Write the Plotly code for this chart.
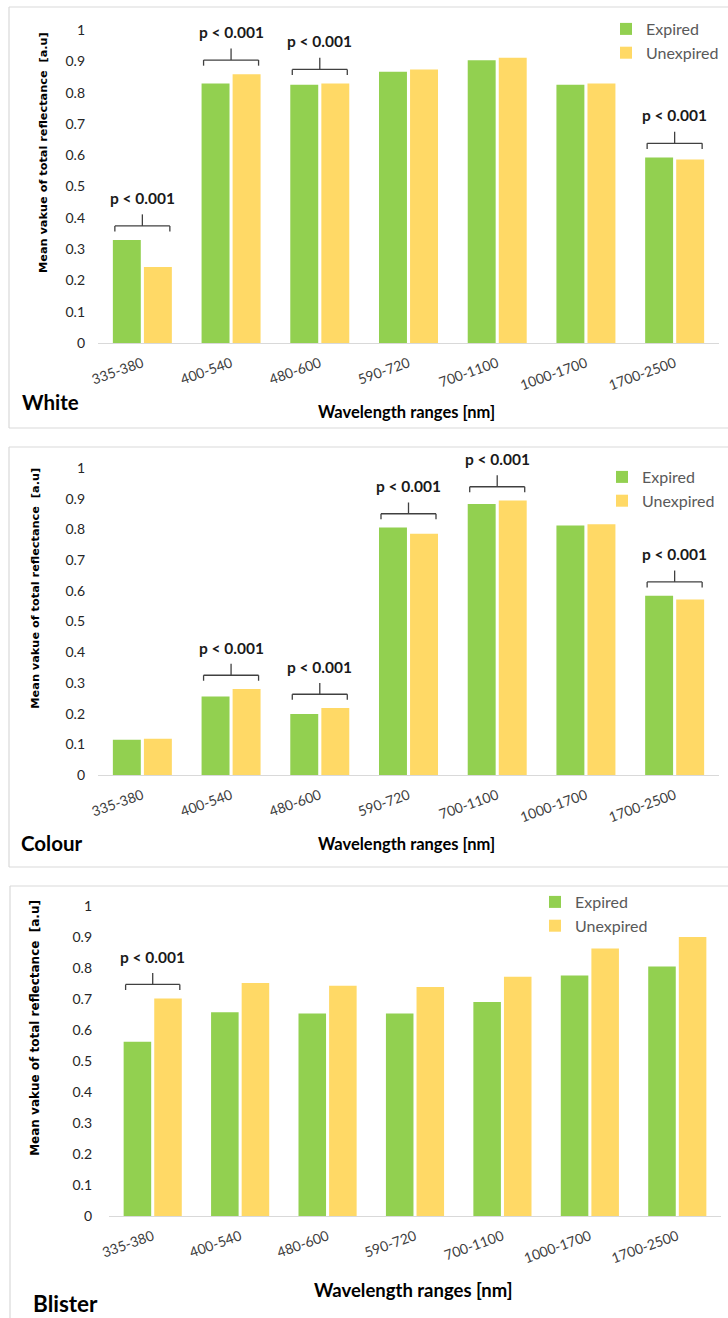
import plotly.graph_objects as go

W, H = 728, 1318

ranges = ["335-380", "400-540", "480-600", "590-720", "700-1100", "1000-1700", "1700-2500"]

white_expired = [0.329, 0.829, 0.825, 0.867, 0.903, 0.825, 0.593]
white_unexpired = [0.243, 0.859, 0.829, 0.874, 0.911, 0.829, 0.586]
white_sig = ["335-380", "400-540", "480-600", "1700-2500"]

colour_expired = [0.115, 0.256, 0.199, 0.806, 0.883, 0.813, 0.584]
colour_unexpired = [0.118, 0.280, 0.218, 0.786, 0.894, 0.817, 0.572]
colour_sig = ["400-540", "480-600", "590-720", "700-1100", "1700-2500"]

blister_expired = [0.562, 0.657, 0.653, 0.653, 0.690, 0.776, 0.805]
blister_unexpired = [0.702, 0.752, 0.743, 0.739, 0.772, 0.863, 0.900]
blister_sig = ["335-380"]

y_ticks = [0, 0.1, 0.2, 0.3, 0.4, 0.5, 0.6, 0.7, 0.8, 0.9, 1]
y_tick_text = ["0", "0.1", "0.2", "0.3", "0.4", "0.5", "0.6", "0.7", "0.8", "0.9", "1"]

GREEN = "#92D050"
YELLOW = "#FFD966"
FONT = "Lato"
YMAX = 1.08


def px_x(p):
    return p / W


def px_y(p):
    return 1 - p / H


# per-panel pixel geometry: plot left/right, zero line, pixels per unit
panels = [
    dict(name="White", exp=white_expired, unexp=white_unexpired, sig=white_sig,
         left=98, right=719, zero=343, scale=313, box=(9, 7, 428),
         legend=(606, 12), ytitle=(43, 11.3), xtitle=(406, 412, 16.5),
         label=(20, 402, 20.5), ytick_standoff=12),
    dict(name="Colour", exp=colour_expired, unexp=colour_unexpired, sig=colour_sig,
         left=98, right=719, zero=775, scale=307, box=(9, 447, 867),
         legend=(602, 460), ytitle=(36, 11.3), xtitle=(406, 844, 16.5),
         label=(19, 843, 20.5), ytick_standoff=12),
    dict(name="Blister", exp=blister_expired, unexp=blister_unexpired, sig=blister_sig,
         left=109, right=721, zero=1216, scale=310, box=(10, 886, 1330),
         legend=(535, 885), ytitle=(35, 12), xtitle=(413, 1290, 18.5),
         label=(31, 1303, 22.5), ytick_standoff=16),
]

fig = go.Figure()
shapes = []
annotations = []

for i, p in enumerate(panels, start=1):
    sx = "" if i == 1 else str(i)
    xa, ya = "x" + sx, "y" + sx
    leg = "legend" + sx

    fig.add_trace(go.Bar(x=ranges, y=p["exp"], name="Expired", marker_color=GREEN,
                         marker_line_width=0, xaxis=xa, yaxis=ya, legend=leg))
    fig.add_trace(go.Bar(x=ranges, y=p["unexp"], name="Unexpired", marker_color=YELLOW,
                         marker_line_width=0, xaxis=xa, yaxis=ya, legend=leg))

    top_px = p["zero"] - YMAX * p["scale"]
    fig.layout["xaxis" + sx] = dict(
        domain=[px_x(p["left"]), px_x(p["right"])], anchor=ya, automargin=False,
        type="category", categoryorder="array", categoryarray=ranges,
        tickangle=-20, tickfont=dict(family=FONT, size=14, color="#404040"),
        ticklabelstandoff=6,
        showline=True, linecolor="#d9d9d9", linewidth=1, ticks="",
        showgrid=False, zeroline=False, fixedrange=True,
    )
    fig.layout["yaxis" + sx] = dict(
        domain=[px_y(p["zero"]), px_y(top_px)], anchor=xa, automargin=False,
        range=[0, YMAX], tickvals=y_ticks, ticktext=y_tick_text,
        tickfont=dict(family=FONT, size=14, color="#262626"),
        ticklabelstandoff=p["ytick_standoff"],
        showgrid=False, zeroline=False, showline=False, ticks="", fixedrange=True,
    )

    fig.layout[leg] = dict(
        x=px_x(p["legend"][0]), y=px_y(p["legend"][1]), xanchor="left", yanchor="top",
        xref="paper", yref="paper", bgcolor="rgba(0,0,0,0)",
        font=dict(family=FONT, size=16, color="#595959"),
        itemwidth=30, tracegroupgap=0,
    )

    # panel frame (open on the right)
    bx, by0, by1 = p["box"]
    frame = dict(type="line", xref="paper", yref="paper",
                 line=dict(color="#d9d9d9", width=1.2))
    shapes.append({**frame, "x0": px_x(bx), "x1": 1.01, "y0": px_y(by0), "y1": px_y(by0)})
    shapes.append({**frame, "x0": px_x(bx), "x1": 1.01, "y0": px_y(by1), "y1": px_y(by1)})
    shapes.append({**frame, "x0": px_x(bx), "x1": px_x(bx), "y0": px_y(by0), "y1": px_y(by1)})

    # significance brackets above the flagged pairs
    for cat in p["sig"]:
        k = ranges.index(cat)
        peak = max(p["exp"][k], p["unexp"][k])
        yl = peak + 0.045
        half = 0.31
        line = dict(type="line", xref=xa, yref=ya, line=dict(color="#404040", width=1.3))
        shapes.append({**line, "x0": k - half, "x1": k + half, "y0": yl, "y1": yl})
        shapes.append({**line, "x0": k - half, "x1": k - half, "y0": yl, "y1": yl - 0.018})
        shapes.append({**line, "x0": k + half, "x1": k + half, "y0": yl, "y1": yl - 0.018})
        shapes.append({**line, "x0": k, "x1": k, "y0": yl, "y1": yl + 0.037})
        annotations.append(dict(
            x=k, y=yl + 0.09, xref=xa, yref=ya, text="<b>p < 0.001</b>", showarrow=False,
            xanchor="center", yanchor="middle",
            font=dict(family=FONT, size=15.5, color="#1a1a1a"),
        ))

    # y-axis title
    yt_x, yt_size = p["ytitle"]
    annotations.append(dict(
        x=px_x(yt_x), y=px_y(p["zero"] - 0.607 * p["scale"]), xref="paper", yref="paper",
        text="<b>Mean vakue of total reflectance  [a.u]</b>", textangle=-90, showarrow=False,
        xanchor="center", yanchor="middle",
        font=dict(family="DejaVu Sans", size=yt_size, color="#000000"),
    ))

    # x-axis title
    xt_x, xt_y, xt_size = p["xtitle"]
    annotations.append(dict(
        x=px_x(xt_x), y=px_y(xt_y), xref="paper", yref="paper",
        text="<b>Wavelength ranges [nm]</b>", showarrow=False,
        xanchor="center", yanchor="middle",
        font=dict(family=FONT, size=xt_size, color="#000000"),
    ))

    # panel label
    lx, ly, lsize = p["label"]
    annotations.append(dict(
        x=px_x(lx), y=px_y(ly), xref="paper", yref="paper",
        text="<b>" + p["name"] + "</b>", showarrow=False,
        xanchor="left", yanchor="middle",
        font=dict(family=FONT, size=lsize, color="#000000"),
    ))

fig.update_layout(
    width=W, height=H,
    margin=dict(l=0, r=0, t=0, b=0, autoexpand=False),
    paper_bgcolor="white", plot_bgcolor="white",
    barmode="group", bargap=0.3, bargroupgap=0.1,
    shapes=shapes, annotations=annotations,
    font=dict(family=FONT),
)

fig.write_html("out.html")
